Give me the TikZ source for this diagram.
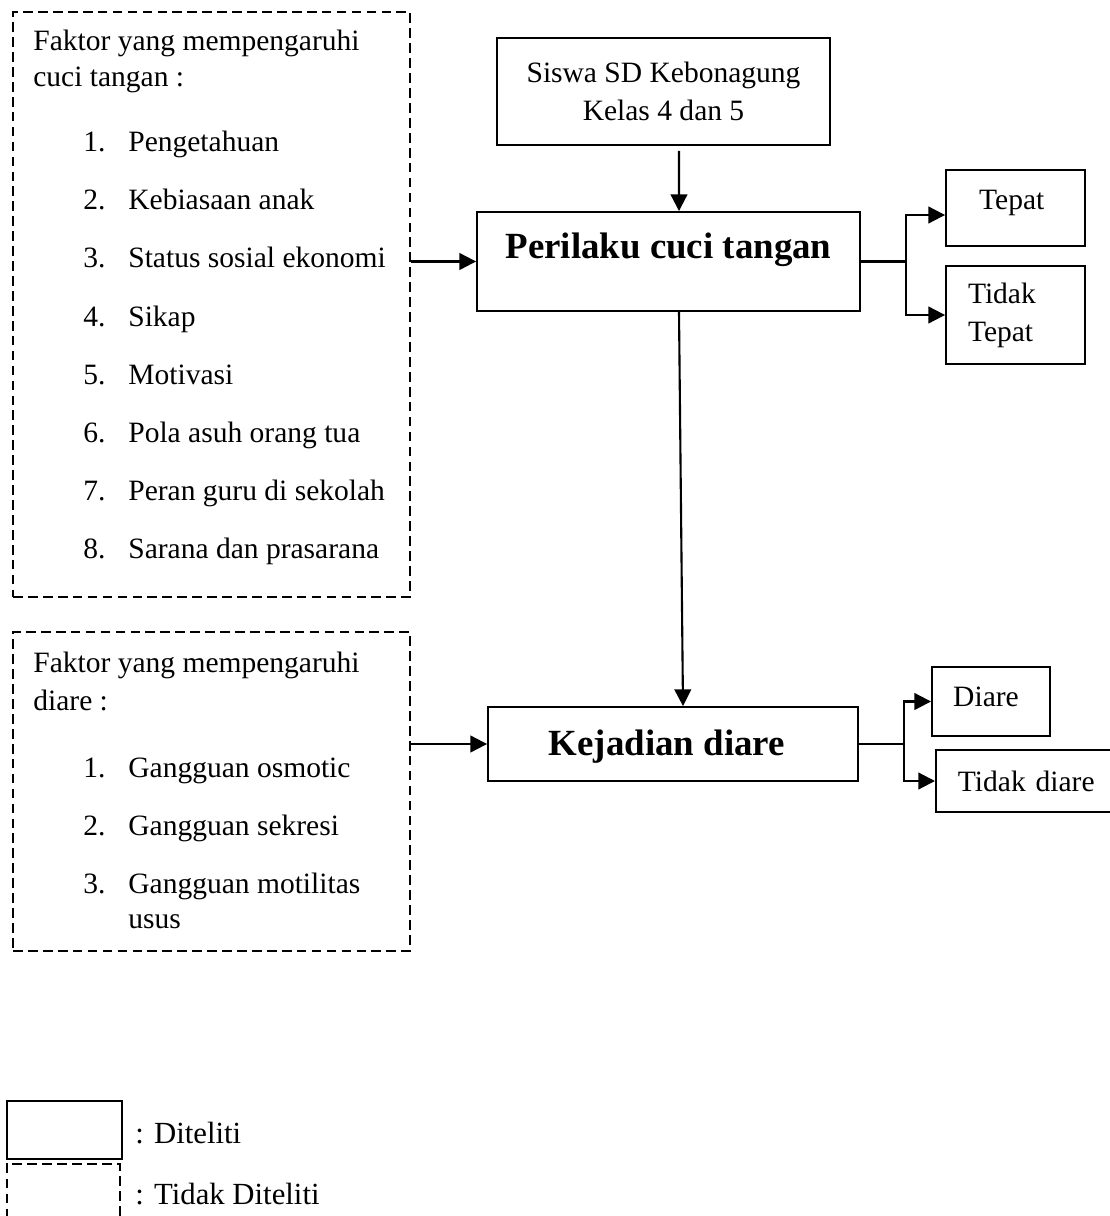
\documentclass[tikz,border=0pt]{standalone}
\usepackage{fontspec}
\setmainfont{Liberation Serif}
\usetikzlibrary{arrows.meta}

\tikzset{
  txt/.style={font=\fontsize{16.8}{21.6}\selectfont, inner sep=0pt, anchor=base west},
  solidbox/.style={draw, line width=1.1pt, font=\fontsize{16.8}{21.6}\selectfont},
  dashbox/.style={draw, line width=1.1pt, dash pattern=on 5.5pt off 3pt},
  bigbox/.style={solidbox, font=\bfseries\fontsize{21}{25}\selectfont, inner ysep=0pt},
  conn/.style={line width=1.2pt},
  arr/.style={conn, -{Triangle[length=9.5pt,width=9.5pt]}}
}

\begin{document}
\begin{tikzpicture}[x=0.02cm, y=-0.02cm]
  \useasboundingbox (0,0) rectangle (1109,1216);
  % Faktor boxes (tidak diteliti)
  \node[dashbox, minimum width=7.94cm, minimum height=11.7cm] (faktorA) at (211.5,304.5) {};
  \node[dashbox, minimum width=7.94cm, minimum height=6.38cm] (faktorB) at (211.5,791.5) {};
  \node[txt] (hA1) at (33,51) {Faktor yang mempengaruhi};
  \node[txt] (hA2) at (33,87) {cuci tangan :};
  \foreach \i/\t in {1/Pengetahuan,2/Kebiasaan anak,3/Status sosial ekonomi,4/Sikap,
                     5/Motivasi,6/Pola asuh orang tua,7/Peran guru di sekolah,8/Sarana dan prasarana} {
    \node[txt] (nA\i) at (83,{152+58*(\i-1)}) {\i.};
    \node[txt] (iA\i) at (128,{152+58*(\i-1)}) {\t};
  }
  \node[txt] (hB1) at (33,672) {Faktor yang mempengaruhi};
  \node[txt] (hB2) at (33,710) {diare :};
  \foreach \i/\t in {1/Gangguan osmotic,2/Gangguan sekresi,3/Gangguan motilitas} {
    \node[txt] (nB\i) at (83,{777+58*(\i-1)}) {\i.};
    \node[txt] (iB\i) at (128,{777+58*(\i-1)}) {\t};
  }
  \node[txt] (iB4) at (128,928) {usus};

  % Main boxes
  \node[solidbox, align=center, minimum width=6.66cm, minimum height=2.14cm] (siswa) at (663.5,91.5)
    {Siswa SD Kebonagung\\Kelas 4 dan 5};
  \node[bigbox, anchor=base, minimum width=7.66cm, text height=0.94cm, text depth=1.04cm] (perilaku)
    at (668.5,259) {Perilaku cuci tangan};
  \node[bigbox, anchor=base, minimum width=7.4cm, text height=0.96cm, text depth=0.52cm] (kejadian)
    at (673,755) {Kejadian diare\hspace{0.25cm}\mbox{}};

  % Outcome boxes
  \node[solidbox, anchor=base, inner ysep=0pt, minimum width=2.78cm, text height=0.8cm, text depth=0.72cm] (tepat)
    at (1015.5,210) {Tepat\hspace{0.15cm}\mbox{}};
  \node[solidbox, align=left, text width=1.9cm, inner xsep=0.44cm, minimum height=1.96cm] (tidaktepat)
    at (1015.5,315) {Tidak\\Tepat};
  \node[solidbox, anchor=base, inner ysep=0pt, minimum width=2.36cm, text height=0.78cm, text depth=0.6cm] (diare)
    at (991,706) {Diare\hspace{0.2cm}\mbox{}};
  \node[solidbox, anchor=west, align=left, text width=3.2cm, inner xsep=0.44cm, minimum height=1.24cm] (tidakdiare)
    at (935,781) {Tidak diare};

  % Connectors
  \draw[arr] ([xshift=0.31cm,yshift=-0.1cm]siswa.south) -- ([xshift=0.21cm]perilaku.north);
  \draw[arr] (faktorA.east |- perilaku.west) -- (perilaku.west);
  \draw[arr] ([xshift=0.21cm]perilaku.south) -- ([xshift=0.2cm]kejadian.north);
  \draw[arr] (faktorB.east |- kejadian.west) -- (kejadian.west);
  \draw[conn] (perilaku.east) -- ++(45,0) coordinate (bA);
  \draw[arr] (bA) |- ([yshift=-0.14cm]tepat.west);
  \draw[arr] (bA) |- (tidaktepat.west);
  \draw[conn] (kejadian.east) -- ++(45,0) coordinate (bB);
  \draw[arr] (bB) |- (diare.west);
  \draw[arr] (bB) |- (tidakdiare.west);

  % Legend
  \node[draw, line width=1.1pt, minimum width=2.3cm, minimum height=1.16cm] (lgA) at (64.5,1130) {};
  \node[dashbox, minimum width=2.26cm, minimum height=1.16cm] (lgB) at (63.5,1193) {};
  \node[txt, font=\fontsize{17.5}{21}\selectfont] (lgAt) at (135,1143) {: Diteliti};
  \node[txt, font=\fontsize{17.5}{21}\selectfont] (lgBt) at (135,1204) {: Tidak Diteliti};
\end{tikzpicture}
\end{document}
